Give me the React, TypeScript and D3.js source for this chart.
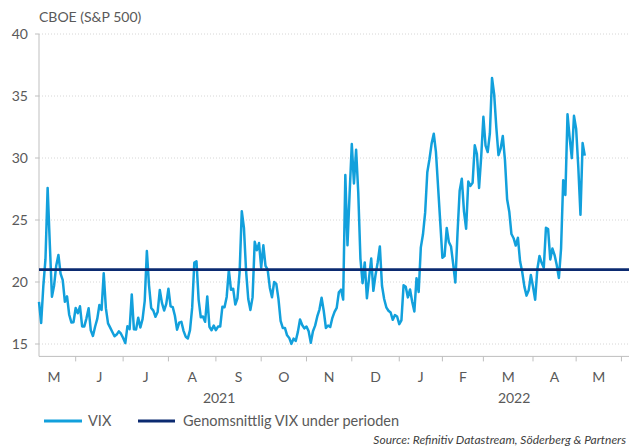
import React from 'react';
import * as d3 from 'd3';

// Daily VIX closes, grouped by month (trading days)
const vixMay2021 = [18.39, 16.69, 19.66, 21.84, 27.59, 23.13, 18.81, 19.72, 21.34, 22.18, 20.67, 20.15, 18.4, 18.84, 17.36, 16.74, 16.76];
const vixJun2021 = [17.9, 17.48, 18.04, 16.42, 16.42, 17.07, 17.89, 16.1, 15.65, 16.39, 17.02, 18.15, 17.75, 20.7, 17.89, 16.66, 16.32, 15.97, 15.62, 15.76, 16.02, 15.83];
const vixJul2021 = [15.48, 15.07, 16.44, 16.2, 19.0, 16.18, 16.17, 17.12, 16.33, 17.01, 18.45, 22.5, 19.73, 17.91, 17.69, 17.2, 17.58, 19.36, 18.31, 17.7, 18.24];
const vixAug2021 = [19.46, 18.04, 17.97, 17.28, 16.15, 16.72, 16.79, 16.06, 15.59, 15.45, 16.12, 17.91, 21.57, 21.67, 18.56, 17.15, 17.22, 16.79, 18.84, 16.39, 16.11, 16.48];
const vixSep2021 = [16.11, 16.41, 16.41, 18.0, 17.96, 18.8, 20.95, 19.37, 19.46, 18.18, 18.69, 20.81, 25.71, 24.36, 20.87, 18.63, 17.75, 18.76, 23.25, 22.56, 23.14];
const vixOct2021 = [21.15, 22.96, 21.3, 21.0, 19.54, 18.77, 20.0, 19.85, 18.64, 16.86, 16.3, 16.3, 15.7, 15.49, 15.01, 15.43, 15.24, 15.98, 16.98, 16.53, 16.26];
const vixNov2021 = [16.41, 16.03, 15.1, 16.03, 16.48, 17.22, 17.78, 18.73, 17.66, 16.29, 16.49, 16.37, 17.11, 17.59, 17.91, 19.17, 19.38, 18.58, 28.62, 22.96, 27.19];
const vixDec2021 = [31.12, 27.95, 30.67, 27.18, 21.89, 19.9, 21.58, 18.69, 20.31, 21.89, 19.29, 20.57, 21.57, 22.87, 19.7, 18.63, 17.96, 17.68, 17.54, 16.95, 17.33, 17.22];
const vixJan2022 = [16.6, 16.91, 19.73, 19.61, 18.76, 19.4, 18.41, 17.62, 20.31, 19.19, 22.79, 23.85, 25.59, 28.85, 29.9, 31.16, 31.96, 30.49, 27.66, 24.83];
const vixFeb2022 = [21.96, 22.09, 24.35, 23.22, 22.86, 21.44, 19.96, 23.91, 27.36, 28.33, 25.7, 24.29, 28.11, 27.75, 28.0, 31.02, 30.32, 27.59, 30.15];
const vixMar2022 = [33.32, 31.0, 30.48, 31.98, 36.45, 35.13, 32.45, 30.23, 30.75, 31.77, 29.83, 26.67, 25.67, 23.87, 23.53, 22.94, 23.57, 21.67, 20.81, 19.63, 18.9, 19.33, 20.56];
const vixApr2022 = [19.63, 18.57, 21.03, 22.1, 21.55, 21.16, 24.37, 24.26, 21.82, 22.7, 22.17, 21.37, 20.32, 22.68, 28.21, 27.02, 33.52, 31.6, 29.99, 33.4];
const vixMay2022 = [32.34, 29.25, 25.42, 31.2, 30.19];

const averageVix = 21.0;

// Category axis: trading days per month (May 2021 .. May 2022)
const monthLabels = ['M', 'J', 'J', 'A', 'S', 'O', 'N', 'D', 'J', 'F', 'M', 'A', 'M'];
const monthTradingDays = [20, 22, 21, 22, 21, 21, 21, 22, 20, 19, 23, 20, 21];
const firstDataOffset = 3; // data begins on the 4th trading day of May 2021
const axisEndCategory = 276.5;
const yearLabels = ['2021', '2022'];
const yearStartMonth = [0, 8];
const yTicks = [15, 20, 25, 30, 35, 40];
const yDomain = [14, 40];
const legendLabels = ['VIX', 'Genomsnittlig VIX under perioden'];
const axisTitle = 'CBOE (S&P 500)';
const sourceText = 'Source: Refinitiv Datastream, Söderberg & Partners';

const W = 629;
const H = 448;
const left = 39;
const right = 629;
const top = 34;
const bottom = 356.4;

const FONT = "Lato, 'Noto Sans', sans-serif";
const TEXT = '#595959';
const VIX_COLOR = '#12a0dc';
const AVG_COLOR = '#0b2a70';

export default function App() {
  const series = [
    vixMay2021, vixJun2021, vixJul2021, vixAug2021, vixSep2021, vixOct2021, vixNov2021,
    vixDec2021, vixJan2022, vixFeb2022, vixMar2022, vixApr2022, vixMay2022,
  ].flat();
  const points = series.map((v, i) => ({ c: i + firstDataOffset, v }));

  const x = d3.scaleLinear().domain([firstDataOffset, axisEndCategory]).range([left, right]);
  const y = d3.scaleLinear().domain(yDomain).range([bottom, top]);

  const monthStarts: number[] = [];
  let acc = 0;
  for (const d of monthTradingDays) {
    monthStarts.push(acc);
    acc += d;
  }
  monthStarts.push(acc);

  const line = d3
    .line<{ c: number; v: number }>()
    .x((d) => x(d.c))
    .y((d) => y(d.v));

  const yearBounds = [
    [left, x(monthStarts[yearStartMonth[1]])],
    [x(monthStarts[yearStartMonth[1]]), right],
  ];

  return (
    <svg
      width={W}
      height={H}
      style={{ position: 'absolute', left: 0, top: 0, background: '#fff' }}
      fontFamily={FONT}
    >
      {/* gridlines */}
      {yTicks.map((t) => (
        <line
          key={'g' + t}
          x1={left}
          x2={right}
          y1={y(t)}
          y2={y(t)}
          stroke="#d6d6d6"
          strokeWidth={1}
          strokeDasharray="1 2"
        />
      ))}
      {/* y axis */}
      <line x1={left} x2={left} y1={y(40)} y2={bottom} stroke="#bfbfbf" strokeWidth={1} />
      {yTicks.map((t) => (
        <g key={'yt' + t}>
          <line x1={left - 4} x2={left} y1={y(t)} y2={y(t)} stroke="#bfbfbf" />
          <text x={28} y={y(t)} dy="0.35em" textAnchor="end" fontSize={14} fill={TEXT}>
            {t}
          </text>
        </g>
      ))}
      <text x={39} y={22} fontSize={14} fill={TEXT}>
        {axisTitle}
      </text>

      {/* x axis */}
      <line x1={left} x2={right} y1={bottom} y2={bottom} stroke="#bfbfbf" strokeWidth={1} />
      {monthStarts
        .filter((c) => c > firstDataOffset && x(c) <= right)
        .map((c) => (
          <line key={'xt' + c} x1={x(c)} x2={x(c)} y1={bottom} y2={bottom + 5} stroke="#bfbfbf" />
        ))}
      {monthLabels.map((m, i) => (
        <text
          key={'m' + i}
          x={x((monthStarts[i] + monthStarts[i + 1]) / 2)}
          y={377}
          dy="0.35em"
          textAnchor="middle"
          fontSize={14}
          fill={TEXT}
        >
          {m}
        </text>
      ))}
      {yearLabels.map((yl, i) => (
        <text
          key={yl}
          x={(yearBounds[i][0] + yearBounds[i][1]) / 2}
          y={398}
          dy="0.35em"
          textAnchor="middle"
          fontSize={14}
          fill={TEXT}
        >
          {yl}
        </text>
      ))}

      {/* series */}
      <path d={line(points) || ''} fill="none" stroke={VIX_COLOR} strokeWidth={2.5} strokeLinejoin="round" />
      <line x1={left} x2={right} y1={y(averageVix)} y2={y(averageVix)} stroke={AVG_COLOR} strokeWidth={2.6} />

      {/* legend */}
      <line x1={44} x2={82} y1={421} y2={421} stroke={VIX_COLOR} strokeWidth={3} />
      <text x={88} y={421} dy="0.35em" fontSize={14.5} fill={TEXT}>
        {legendLabels[0]}
      </text>
      <line x1={138} x2={175} y1={421} y2={421} stroke={AVG_COLOR} strokeWidth={3} />
      <text x={183} y={421} dy="0.35em" fontSize={14.5} fill={TEXT}>
        {legendLabels[1]}
      </text>

      {/* source */}
      <text x={626} y={444} textAnchor="end" fontSize={12} fontStyle="italic" fill="#404040">
        {sourceText}
      </text>
    </svg>
  );
}
